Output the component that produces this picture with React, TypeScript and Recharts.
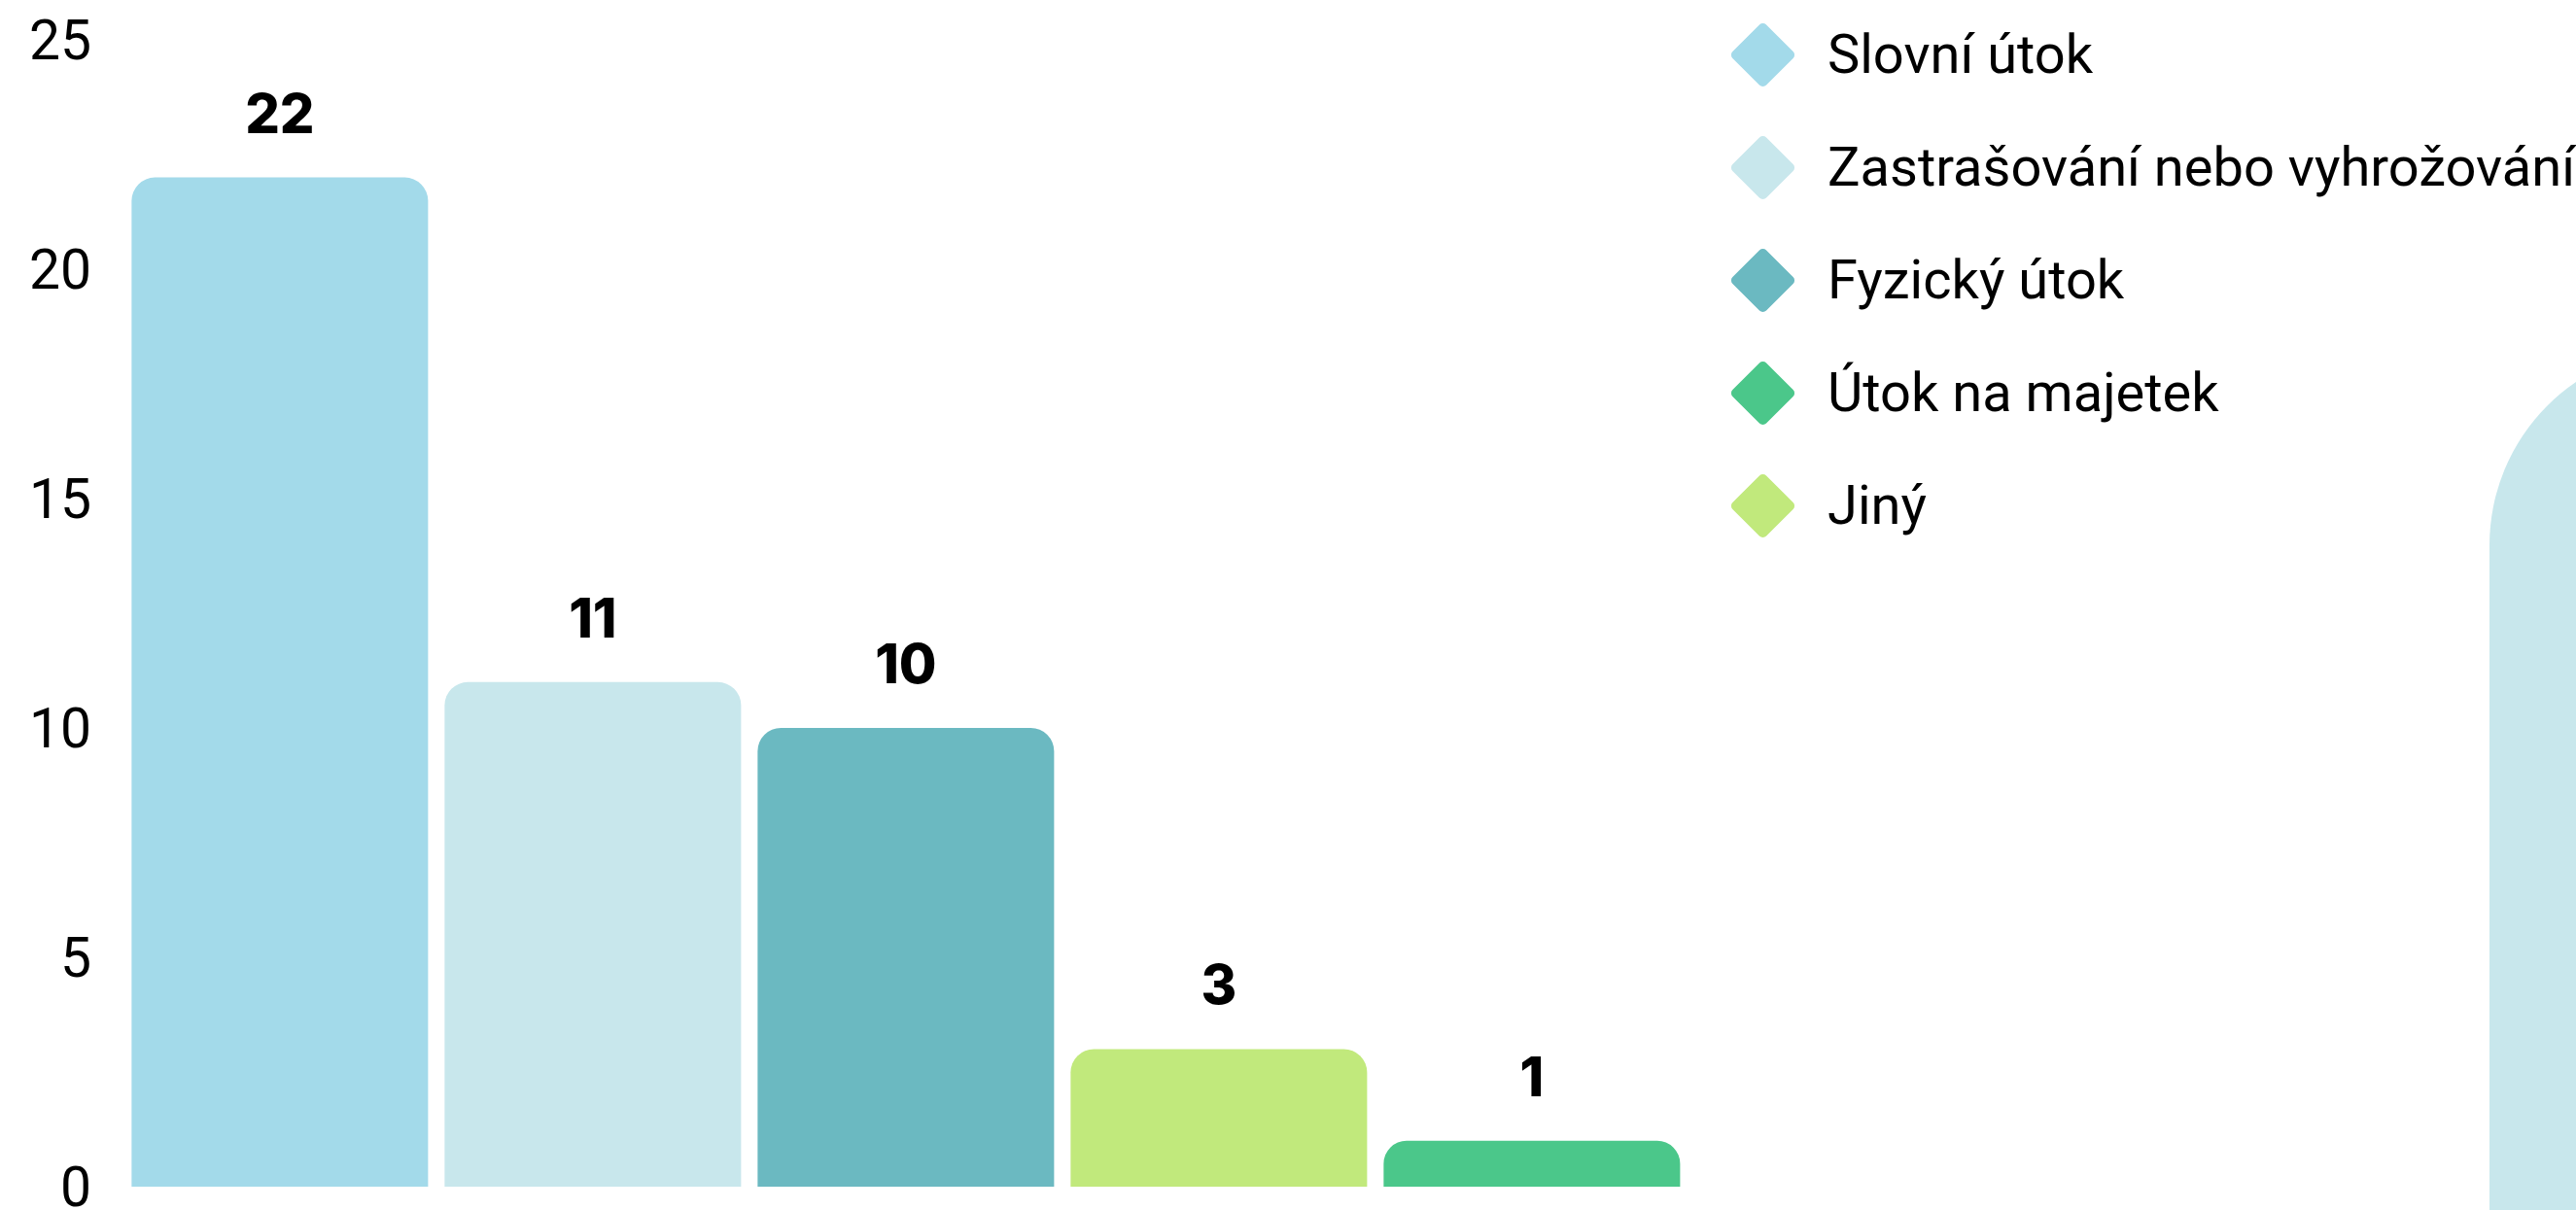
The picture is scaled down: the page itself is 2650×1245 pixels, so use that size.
import { BarChart, Bar, Cell, XAxis, YAxis, LabelList, Legend } from 'recharts'

// bars, left to right
const categories = ['Slovní útok', 'Zastrašování nebo vyhrožování', 'Fyzický útok', 'Jiný', 'Útok na majetek']
const counts = [22, 11, 10, 3, 1]
const barColors = ['#A3DAEA', '#C8E7EC', '#6BB9C1', '#C1E97C', '#4BC78A']

// legend is listed in a different order than the bars
const legendOrder = ['Slovní útok', 'Zastrašování nebo vyhrožování', 'Fyzický útok', 'Útok na majetek', 'Jiný']

const yTicks = [0, 5, 10, 15, 20, 25]

const data = categories.map((name, i) => ({ name, value: counts[i] }))
const colorOf = (name: string) => barColors[categories.indexOf(name)]

const renderLegend = () => (
  <div style={{ display: 'flex', flexDirection: 'column' }}>
    {legendOrder.map((name) => (
      <div key={name} style={{ height: 116, display: 'flex', alignItems: 'center' }}>
        <span
          style={{
            width: 49,
            height: 49,
            background: colorOf(name),
            transform: 'rotate(45deg)',
            borderRadius: 5,
            margin: '0 42px 0 10px',
            flex: 'none',
          }}
        />
        <span style={{ fontFamily: 'Roboto', fontSize: 56, color: '#000', whiteSpace: 'nowrap' }}>{name}</span>
      </div>
    ))}
  </div>
)

export default function App() {
  return (
    <div style={{ position: 'fixed', inset: 0, overflow: 'hidden', background: '#fff' }}>
      <BarChart
        width={2650}
        height={1245}
        data={data}
        margin={{ top: 41, right: 913, bottom: 24, left: 0 }}
        barCategoryGap="2.6%"
      >
        <XAxis dataKey="name" hide />
        <YAxis
          width={127}
          domain={[0, 25]}
          ticks={yTicks}
          interval={0}
          axisLine={false}
          tickLine={false}
          tickSize={0}
          tickMargin={33}
          tick={{ fontFamily: 'Roboto', fontSize: 57, fill: '#000' }}
        />
        <Legend
          layout="vertical"
          align="center"
          verticalAlign="middle"
          content={renderLegend}
          wrapperStyle={{ left: 1779, top: -2, width: 870 }}
        />
        <Bar dataKey="value" radius={[24, 24, 0, 0]} isAnimationActive={false}>
          {data.map((d, i) => (
            <Cell key={d.name} fill={barColors[i]} />
          ))}
          <LabelList
            dataKey="value"
            position="top"
            offset={46}
            fill="#000"
            style={{ fontFamily: 'Inter', fontWeight: 800, fontSize: 56 }}
          />
        </Bar>
      </BarChart>
      <div
        style={{
          position: 'absolute',
          left: 2561,
          top: 358,
          width: 400,
          height: 1000,
          background: '#C8E7EC',
          borderTopLeftRadius: 203,
        }}
      />
    </div>
  )
}
